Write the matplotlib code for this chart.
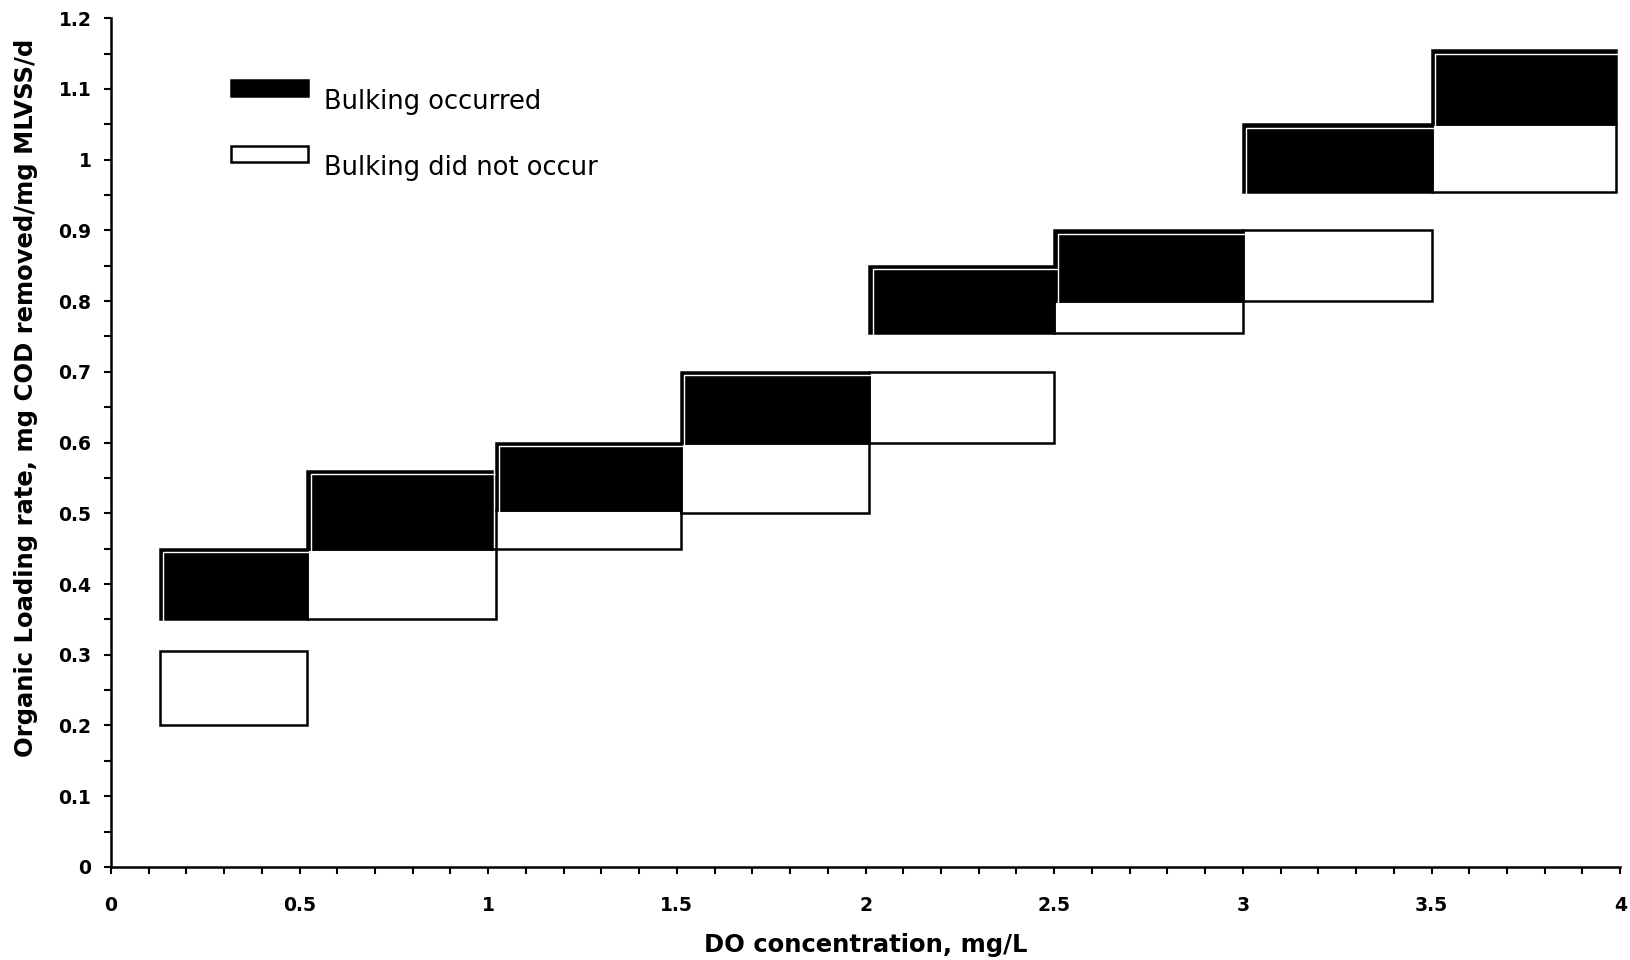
import numpy as np
import matplotlib.pyplot as plt
from matplotlib.patches import Rectangle
from matplotlib.ticker import MultipleLocator
from matplotlib.transforms import offset_copy

plt.rcParams['font.family'] = ['DejaVu Sans']

# bulking occurred (black boxes): DO range (x) and loading range (y)
bulk_x0 = [0.13, 0.52, 1.02, 1.51, 2.01, 2.50, 3.00, 3.50]
bulk_x1 = [0.52, 1.01, 1.51, 2.01, 2.50, 3.00, 3.50, 3.99]
bulk_y0 = [0.35, 0.45, 0.505, 0.60, 0.755, 0.80, 0.955, 1.05]
bulk_y1 = [0.45, 0.56, 0.60, 0.70, 0.85, 0.90, 1.05, 1.155]

# bulking did not occur (white boxes)
ok_x0 = [0.13, 0.52, 1.02, 1.51, 2.01, 2.50, 3.00, 3.50]
ok_x1 = [0.52, 1.02, 1.51, 2.01, 2.50, 3.00, 3.50, 3.99]
ok_y0 = [0.20, 0.35, 0.45, 0.50, 0.60, 0.755, 0.80, 0.955]
ok_y1 = [0.305, 0.45, 0.505, 0.60, 0.70, 0.80, 0.90, 1.05]

x_ticks = [0, 0.5, 1, 1.5, 2, 2.5, 3, 3.5, 4]
x_labels = ['0', '0.5', '1', '1.5', '2', '2.5', '3', '3.5', '4']
y_ticks = [0, 0.1, 0.2, 0.3, 0.4, 0.5, 0.6, 0.7, 0.8, 0.9, 1.0, 1.1, 1.2]
y_labels = ['0', '0.1', '0.2', '0.3', '0.4', '0.5', '0.6', '0.7', '0.8', '0.9', '1', '1.1', '1.2']

legend_labels = ['Bulking occurred', 'Bulking did not occur']
legend_colors = ['black', 'white']

fig = plt.figure(figsize=(16.3, 9.6), dpi=100)
ax = fig.add_axes([0.068, 0.097, 0.926, 0.884])

# white boxes first, black ones drawn over the shared edges
for x0, x1, y0, y1 in zip(ok_x0, ok_x1, ok_y0, ok_y1):
    ax.add_patch(Rectangle((x0, y0), x1 - x0, y1 - y0, facecolor='white',
                           edgecolor='black', linewidth=1.8, zorder=2))

# inner white line on top/left of the black boxes (double border look)
inset = offset_copy(ax.transData, fig=fig, x=3.5, y=-3.5, units='dots')
for x0, x1, y0, y1 in zip(bulk_x0, bulk_x1, bulk_y0, bulk_y1):
    ax.add_patch(Rectangle((x0, y0), x1 - x0, y1 - y0, facecolor='black',
                           edgecolor='black', linewidth=1.8, zorder=3))
    ax.plot([x0, x0, x1], [y0, y1, y1], color='white', linewidth=1.0,
            transform=inset, zorder=4, solid_capstyle='butt')

ax.set_xlim(0, 4)
ax.set_ylim(0, 1.2)
ax.set_xticks(x_ticks)
ax.set_xticklabels(x_labels, fontweight='bold', fontsize=13.5)
ax.set_yticks(y_ticks)
ax.set_yticklabels(y_labels, fontweight='bold', fontsize=13.5)
ax.xaxis.set_minor_locator(MultipleLocator(0.1))
ax.yaxis.set_minor_locator(MultipleLocator(0.05))
ax.tick_params(which='both', direction='out', length=5, width=1.5)
ax.tick_params(axis='x', which='major', pad=16)
ax.tick_params(axis='y', which='major', pad=9)

for side in ['top', 'right']:
    ax.spines[side].set_visible(False)
for side in ['left', 'bottom']:
    ax.spines[side].set_linewidth(1.8)

ax.set_xlabel('DO concentration, mg/L', fontsize=17.5, fontweight='bold', labelpad=13)
ax.set_ylabel('Organic Loading rate, mg COD removed/mg MLVSS/d', fontsize=17.5,
              fontweight='bold')
ax.yaxis.set_label_coords(-0.048, 0.553)

# legend: swatches and labels in axes fraction
sw_x, sw_w, sw_h = 0.0795, 0.051, 0.019
sw_top = [0.927, 0.850]
txt_y = [0.901, 0.824]
for lab, col, top, ty in zip(legend_labels, legend_colors, sw_top, txt_y):
    ax.add_patch(Rectangle((sw_x, top - sw_h), sw_w, sw_h, transform=ax.transAxes,
                           facecolor=col, edgecolor='black', linewidth=1.8,
                           clip_on=False, zorder=5))
    ax.text(0.141, ty, lab, transform=ax.transAxes, fontsize=18.5,
            va='center', ha='left')

fig.savefig('out.png', dpi=100)
